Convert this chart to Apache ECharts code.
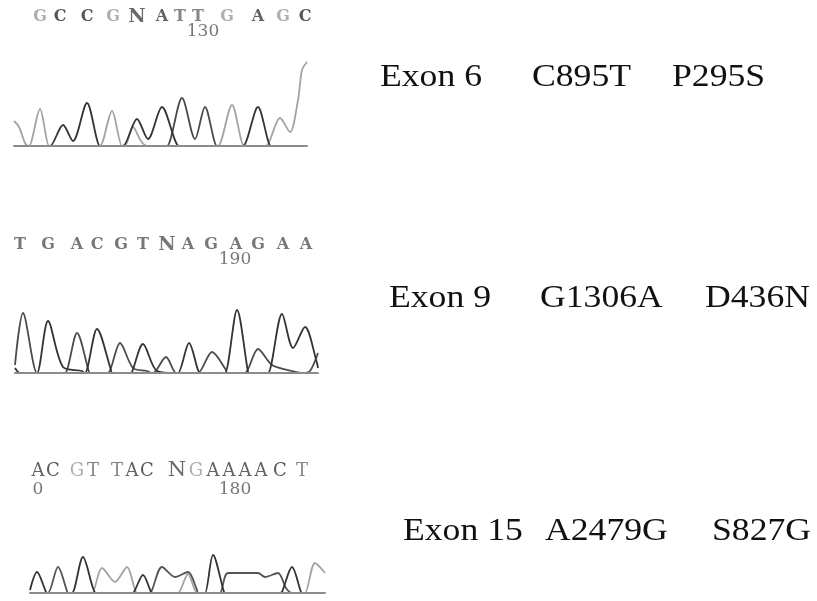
<!DOCTYPE html>
<html>
<head>
<meta charset="utf-8">
<script src="https://cdn.jsdelivr.net/npm/echarts@6/dist/echarts.min.js"></script>
<style>
  html, body { margin: 0; background: #fff; }
  #chart { width: 817px; height: 601px; }
</style>
</head>
<body>
<div id="chart"></div>
<script>
  // trace data: [scan position, signal height]
  // exon 6
  const ex6TraceA = [[0,0],[34,0],[36,0],[49,21],[59,5],[73,43],[86,0],[87,0],[107,0],[109,0],[123,27],[134,7],[148,39],[165,0],[166,0],[227,0],[229,0],[244,39],[257,0],[258,0],[293,0]]
  const ex6TraceB = [[0,0],[151,0],[153,0],[168,48],[181,7],[191,39],[203,0],[204,0],[293,0]]
  const ex6TraceC = [[0,25],[5,19],[11,3],[14,0],[15,0],[26,37],[35,0],[36,0],[84,0],[86,0],[98,35],[108,0],[109,0],[110,0],[111,0],[119,19],[127,5],[133,0],[134,0],[202,0],[204,0],[218,41],[230,0],[231,0],[250,0],[252,0],[266,28],[276,14],[284,46],[288,76],[293,84]]
  const ex6Bases = ['G','C','C','G','N','A','T','T','G','A','G','C']
  const ex6BasePos = [26,46,73,99,123,148,166,184,213,244,269,291]
  const ex6Marks = ['130']
  const ex6MarkPos = [189]

  // exon 9
  const ex9TraceA = [[0,8],[8,60],[22,0],[23,0],[48,0],[50,0],[62,40],[74,1],[75,0],[91,0],[93,0],[105,30],[118,5],[132,2],[137,0],[138,0],[151,16],[161,0],[162,0],[181,0],[183,0],[197,21],[211,3],[212,0],[228,0],[230,0],[243,24],[257,8],[277,2],[288,0],[295,2],[303,20]]
  const ex9TraceB = [[0,5],[5,0],[20,0],[22,0],[33,52],[48,6],[67,2],[69,0],[70,0],[82,44],[96,3],[97,0],[115,0],[117,1],[128,29],[142,2],[161,0],[163,0],[174,30],[183,3],[185,0],[208,0],[210,0],[222,63],[233,1],[234,0],[251,0],[253,0],[267,59],[278,25],[290,46],[302,10],[303,5]]
  const ex9Bases = ['T','G','A','C','G','T','N','A','G','A','G','A','A']
  const ex9BasePos = [5,33,62,82,106,128,152,173,196,221,243,268,291]
  const ex9Marks = ['190']
  const ex9MarkPos = [220]

  // exon 15
  const ex15TraceA = [[0,3],[7,21],[16,1],[17,0],[40,0],[42,0],[53,36],[66,0],[67,0],[103,0],[105,3],[113,18],[121,1],[122,0],[173,0],[175,0],[183,38],[194,1],[195,0],[250,0],[252,1],[262,26],[271,1],[272,0],[295,0]]
  const ex15TraceB = [[0,0],[16,0],[18,0],[28,26],[37,2],[38,0],[120,0],[122,3],[132,26],[145,16],[158,21],[167,3],[168,0],[188,0],[190,0],[198,20],[228,20],[235,16],[248,20],[256,5],[262,0],[295,0]]
  const ex15TraceC = [[0,0],[60,0],[62,0],[72,25],[85,11],[97,26],[107,0],[108,0],[146,0],[148,0],[158,19],[167,0],[168,0],[273,0],[275,0],[285,30],[295,20]]
  const ex15Bases = ['A','C','G','T','T','A','C','N','G','A','A','A','A','C','T']
  const ex15BasePos = [8,23,47,63,87,102,117,147,166,183,199,215,231,250,272]
  const ex15Marks = ['0','180']
  const ex15MarkPos = [8,205]

  // mutation labels
  const exons = ['Exon 6', 'Exon 9', 'Exon 15']
  const dnaChanges = ['C895T', 'G1306A', 'A2479G']
  const proteinChanges = ['P295S', 'D436N', 'S827G']

  const baseColor = { G: '#9a9a9a', C: '#2e2e2e', A: '#3c3c3c', T: '#666', N: '#444' }
  const plainColor = { G: '#555', C: '#555', A: '#555', T: '#555', N: '#555' }

  const panels = [
    { grid: { left: 14, top: 10, width: 293, height: 136 }, xMax: 293, yMax: 136, baseH: 129, markH: 114,
      traces: [[ex6TraceC, '#a3a3a3'], [ex6TraceB, '#4a4a4a'], [ex6TraceA, '#333']],
      bases: ex6Bases, basePos: ex6BasePos, marks: ex6Marks, markPos: ex6MarkPos,
      colors: baseColor, size: 16, weight: 'bold' },
    { grid: { left: 15, top: 235, width: 303, height: 138 }, xMax: 303, yMax: 138, baseH: 128, markH: 113,
      traces: [[ex9TraceA, '#4d4d4d'], [ex9TraceB, '#333']],
      bases: ex9Bases, basePos: ex9BasePos, marks: ex9Marks, markPos: ex9MarkPos,
      colors: plainColor, size: 16, weight: 'bold' },
    { grid: { left: 30, top: 462, width: 295, height: 131 }, xMax: 295, yMax: 131, baseH: 122, markH: 103,
      traces: [[ex15TraceC, '#a3a3a3'], [ex15TraceB, '#555'], [ex15TraceA, '#333']],
      bases: ex15Bases, basePos: ex15BasePos, marks: ex15Marks, markPos: ex15MarkPos,
      colors: baseColor, size: 18, weight: 'normal' }
  ]

  const grid = [], xAxis = [], yAxis = [], series = []
  panels.forEach((p, i) => {
    grid.push(p.grid)
    xAxis.push({
      type: 'value', gridIndex: i, min: 0, max: p.xMax, z: 5,
      axisLine: { show: true, lineStyle: { color: '#8c8c8c', width: 2 } },
      axisTick: { show: false }, axisLabel: { show: false }, splitLine: { show: false }
    })
    yAxis.push({ type: 'value', gridIndex: i, min: 0, max: p.yMax, show: false, splitLine: { show: false } })
    p.traces.forEach(([data, color]) => {
      series.push({
        type: 'line', xAxisIndex: i, yAxisIndex: i, data: data,
        smooth: 0.3, showSymbol: false, silent: true, clip: true,
        lineStyle: { color: color, width: 1.8 }
      })
    })
    // base calls and position numbers above each trace
    series.push({
      type: 'scatter', xAxisIndex: i, yAxisIndex: i, symbolSize: 2, silent: true, clip: false,
      itemStyle: { color: 'rgba(0,0,0,0)' },
      data: p.bases.map((b, k) => ({
        name: b, value: [p.basePos[k], p.baseH],
        label: { color: p.colors[b], fontSize: b === 'N' ? p.size + 3 : p.size }
      })).concat(p.marks.map((m, k) => ({
        name: m, value: [p.markPos[k], p.markH],
        label: { color: '#555', fontSize: 17, fontWeight: 'normal' }
      }))),
      label: {
        show: true, position: 'inside', formatter: (d) => d.name,
        fontFamily: 'DejaVu Serif', fontWeight: p.weight
      }
    })
  })

  // right-hand text rows
  const rowY = [78, 299, 532]
  const colX = [[380, 532, 672], [389, 540, 705], [403, 545, 712]]
  const graphic = []
  exons.forEach((e, i) => {
    [e, dnaChanges[i], proteinChanges[i]].forEach((t, j) => {
      graphic.push({
        type: 'text', x: colX[i][j], y: rowY[i], scaleX: 1.15, silent: true,
        style: { text: t, fill: '#111', font: '31px "Liberation Serif"', textVerticalAlign: 'middle' }
      })
    })
  })

  const chart = echarts.init(document.getElementById('chart'))
  chart.setOption({
    animation: false,
    backgroundColor: '#fff',
    grid: grid, xAxis: xAxis, yAxis: yAxis, series: series,
    graphic: graphic
  })
</script>
</body>
</html>
